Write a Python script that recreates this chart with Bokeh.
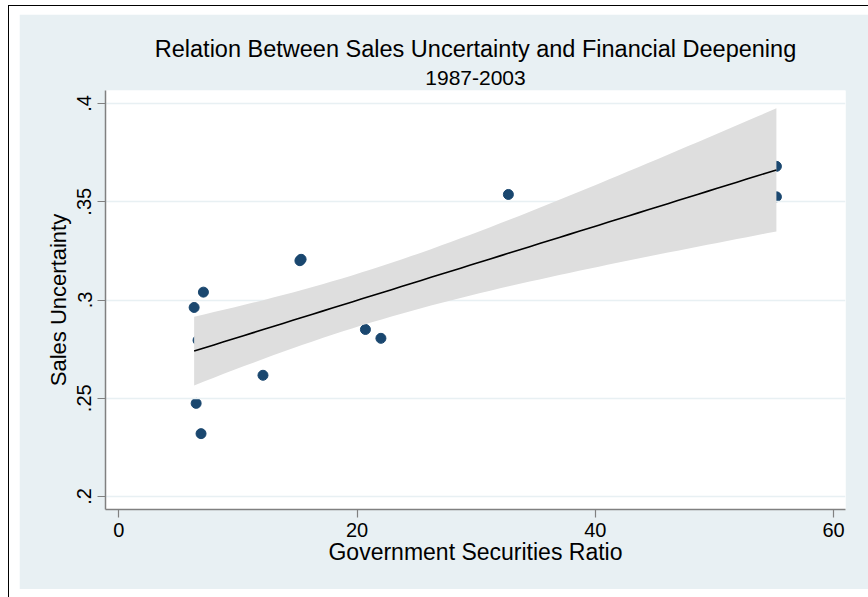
import numpy as np
from bokeh.plotting import figure
from bokeh.layouts import column
from bokeh.models import Range1d, FixedTicker, Title
from bokeh.embed import file_html
from bokeh.resources import INLINE

# data
gov_sec_ratio = [7.1, 6.32, 6.49, 6.9, 6.65, 12.1, 15.3, 15.2, 20.7, 22.0, 32.7, 55.2, 55.2]
sales_uncert = [0.304, 0.2962, 0.2474, 0.232, 0.2795, 0.2617, 0.3207, 0.3200, 0.2850, 0.2805, 0.3537, 0.3680, 0.3525]
x_ticks = [0, 20, 40, 60]
y_ticks = [0.2, 0.25, 0.3, 0.35, 0.4]
y_tick_labels = [".2", ".25", ".3", ".35", ".4"]

BG = "#e8f0f3"
NAVY = "#1a476f"
FONT = "Liberation Sans"

x = np.array(gov_sec_ratio)
y = np.array(sales_uncert)
n = len(x)
b, a = np.polyfit(x, y, 1)
xs = np.linspace(x.min(), x.max(), 60)
yhat = a + b * xs
resid = y - (a + b * x)
s = np.sqrt((resid ** 2).sum() / (n - 2))
sxx = ((x - x.mean()) ** 2).sum()
t_crit = 1.796
se = s * np.sqrt(1.0 / n + (xs - x.mean()) ** 2 / sxx)
lo = yhat - t_crit * se
hi = yhat + t_crit * se

p = figure(width=849, height=575, output_backend="svg", toolbar_location=None,
           x_range=Range1d(-1.12, 61.0), y_range=Range1d(0.1934, 0.4066),
           min_border_left=86, min_border_right=23, min_border_top=76, min_border_bottom=80,
           background_fill_color="white", border_fill_color=BG, outline_line_color=None,
           margin=(8, 0, 0, 10))

p.title.text = ""
p.add_layout(Title(text="1987-2003", align="center", text_font=FONT, text_font_size="21px",
                   text_font_style="normal", text_color="black", standoff=11), "above")
p.add_layout(Title(text="Relation Between Sales Uncertainty and Financial Deepening", align="center",
                   text_font=FONT, text_font_size="23.5px", text_font_style="normal",
                   text_color="black", standoff=4), "above")

p.scatter(gov_sec_ratio, sales_uncert, size=10, color=NAVY, line_color=NAVY, level="underlay")
p.varea(x=xs, y1=lo, y2=hi, fill_color="#dedede", fill_alpha=1.0)
p.line(xs, yhat, line_color="black", line_width=1.6)

p.xgrid.visible = False
p.ygrid.grid_line_color = BG
p.ygrid.grid_line_width = 1.5
p.ygrid.ticker = FixedTicker(ticks=y_ticks)

p.xaxis.ticker = FixedTicker(ticks=x_ticks)
p.yaxis.ticker = FixedTicker(ticks=y_ticks)
p.yaxis.major_label_overrides = dict(zip(y_ticks, y_tick_labels))
p.yaxis.major_label_orientation = "vertical"

for ax in (p.xaxis[0], p.yaxis[0]):
    ax.axis_line_color = "#808080"
    ax.axis_line_width = 1.5
    ax.major_tick_line_color = "#808080"
    ax.major_tick_line_width = 1.2
    ax.major_tick_out = 8
    ax.major_tick_in = 0
    ax.minor_tick_out = 0
    ax.minor_tick_in = 0
    ax.major_label_text_font = FONT
    ax.major_label_text_font_size = "20px"
    ax.major_label_text_color = "black"
    ax.axis_label_text_font = FONT
    ax.axis_label_text_font_style = "normal"
    ax.axis_label_text_color = "black"

p.xaxis.axis_label = "Government Securities Ratio"
p.yaxis.axis_label = "Sales Uncertainty"
p.xaxis.axis_label_text_font_size = "23px"
p.yaxis.axis_label_text_font_size = "22px"
p.xaxis.major_label_standoff = 5
p.xaxis.axis_label_standoff = -1
p.yaxis.major_label_standoff = 6
p.yaxis.axis_label_standoff = 4

layout = column(p, margin=(5, 0, 0, 8), width=860, height=592,
                styles={"border-left": "1px solid black", "border-top": "1px solid black",
                        "background-color": "white"})

open("out.html", "w").write(file_html(layout, INLINE))
